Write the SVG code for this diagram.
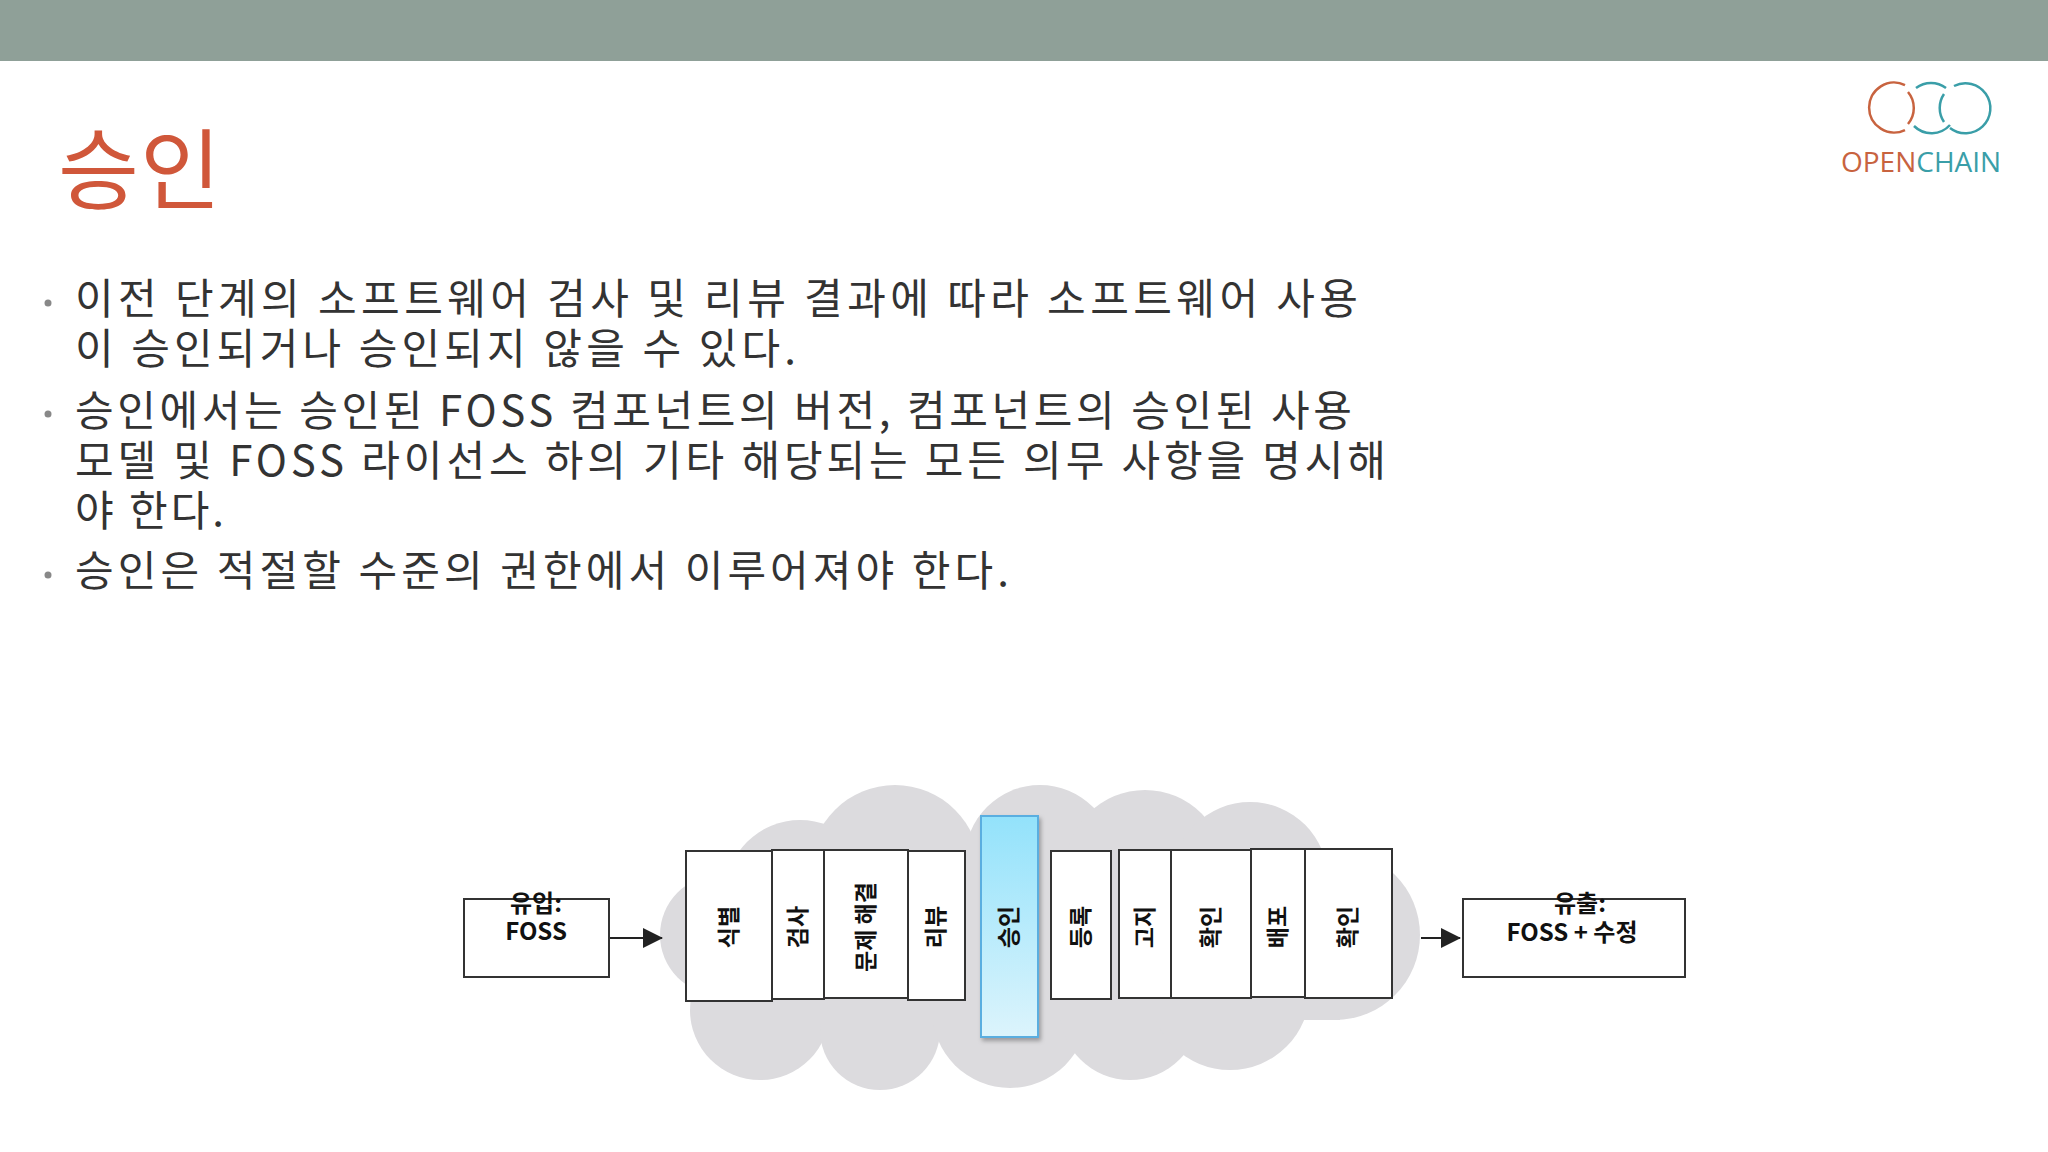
<svg xmlns="http://www.w3.org/2000/svg" width="2048" height="1152" viewBox="0 0 2048 1152">
<defs>
<style>
.t{font-family:"Noto Sans CJK KR","Noto Sans",sans-serif;fill:#333}
.b{font-size:42px}
.box{fill:#fff;stroke:#333;stroke-width:2}
.vl{font-family:"Noto Sans CJK KR",sans-serif;font-size:23px;font-weight:bold;fill:#111;text-anchor:middle}
.bl{font-family:"Noto Sans CJK KR",sans-serif;font-size:24px;font-weight:bold;fill:#111;text-anchor:middle}
.c{fill:#dcdbde}
</style>
<linearGradient id="g" x1="0" y1="0" x2="0" y2="1"><stop offset="0" stop-color="#93e2fb"/><stop offset="1" stop-color="#dcf4fc"/></linearGradient>
<marker id="ar" markerWidth="20" markerHeight="20" refX="19" refY="10" orient="auto" markerUnits="userSpaceOnUse" viewBox="0 0 20 20"><path d="M0,0L20,10L0,20z" fill="#222"/></marker>
<filter id="sh" x="-20%" y="-10%" width="140%" height="120%"><feDropShadow dx="2" dy="3" stdDeviation="2" flood-opacity="0.3"/></filter>
</defs>
<rect width="2048" height="1152" fill="#fff"/>
<rect width="2048" height="61" fill="#8fa098"/>
<text x="58" y="202" font-family="Noto Sans CJK KR,sans-serif" font-size="88" fill="#d0573a" textLength="163">승인</text>
<g id="logo" fill="none" stroke-width="2.5">
<path d="M1905,85 A25,25 0 1 0 1905,130" stroke="#c8633f"/>
<path d="M1908,92 A25,25 0 0 1 1908,124" stroke="#c8633f"/>
<path d="M1916,88 A25,25 0 0 1 1946,88 M1950,125 A25,25 0 0 1 1914,126" stroke="#3a9ea8"/>
<path d="M1944,94 A25,25 0 0 0 1944,122 M1954,86 A25,25 0 1 1 1950,128" stroke="#3a9ea8"/>
<text x="1841" y="172" font-family="Open Sans,sans-serif" font-size="28" stroke="none"><tspan fill="#c8633f">OPEN</tspan><tspan fill="#3a9ea8">CHAIN</tspan></text>
</g>
<g id="bullets" class="t b">
<circle cx="48" cy="303" r="3.5" fill="#888"/>
<circle cx="48" cy="414" r="3.5" fill="#888"/>
<circle cx="48" cy="575" r="3.5" fill="#888"/>
<text x="75" y="314" textLength="1283">이전 단계의 소프트웨어 검사 및 리뷰 결과에 따라 소프트웨어 사용</text>
<text x="75" y="364" textLength="721">이 승인되거나 승인되지 않을 수 있다.</text>
<text x="75" y="426" textLength="1277">승인에서는 승인된 FOSS 컴포넌트의 버전, 컴포넌트의 승인된 사용</text>
<text x="75" y="476" textLength="1311">모델 및 FOSS 라이선스 하의 기타 해당되는 모든 의무 사항을 명시해</text>
<text x="75" y="526" textLength="149">야 한다.</text>
<text x="75" y="586" textLength="934">승인은 적절할 수준의 권한에서 이루어져야 한다.</text>
</g>
<g id="cloud" class="c">
<circle cx="800" cy="895" r="75"/>
<circle cx="895" cy="870" r="85"/>
<circle cx="1040" cy="860" r="75"/>
<circle cx="1145" cy="870" r="80"/>
<circle cx="1250" cy="880" r="78"/>
<circle cx="1335" cy="935" r="85"/>
<circle cx="720" cy="935" r="60"/>
<circle cx="760" cy="1010" r="70"/>
<circle cx="880" cy="1030" r="60"/>
<circle cx="1010" cy="1010" r="78"/>
<circle cx="1130" cy="1010" r="70"/>
<circle cx="1230" cy="990" r="80"/>
<rect x="700" y="870" width="640" height="150"/>
</g>
<g id="connectors" stroke="#222" stroke-width="2" fill="none">
<line x1="609" y1="938" x2="662" y2="938" marker-end="url(#ar)"/>
<line x1="1421" y1="938" x2="1460" y2="938" marker-end="url(#ar)"/>
</g>
<g id="n-in"><rect class="box" x="464" y="899" width="145" height="78"/><text class="bl" x="536" y="912">유입:</text><text class="bl" x="536" y="940">FOSS</text></g>
<g id="n-1"><rect class="box" x="686" y="851" width="86" height="150"/><text class="vl" transform="translate(737,927) rotate(-90)">식별</text></g>
<g id="n-2"><rect class="box" x="772" y="850" width="52" height="149"/><text class="vl" transform="translate(806,927) rotate(-90)">검사</text></g>
<g id="n-3"><rect class="box" x="824" y="850" width="84" height="148"/><text class="vl" transform="translate(874,927) rotate(-90)">문제 해결</text></g>
<g id="n-4"><rect class="box" x="908" y="851" width="57" height="149"/><text class="vl" transform="translate(944,927) rotate(-90)">리뷰</text></g>
<g id="n-5"><rect x="981" y="816" width="57" height="221" fill="url(#g)" stroke="#5aaee0" stroke-width="2" filter="url(#sh)"/><text class="vl" transform="translate(1017,927) rotate(-90)" font-weight="normal">승인</text></g>
<g id="n-6"><rect class="box" x="1051" y="851" width="60" height="148"/><text class="vl" transform="translate(1089,927) rotate(-90)">등록</text></g>
<g id="n-7"><rect class="box" x="1119" y="850" width="52" height="148"/><text class="vl" transform="translate(1153,927) rotate(-90)">고지</text></g>
<g id="n-8"><rect class="box" x="1171" y="850" width="80" height="148"/><text class="vl" transform="translate(1219,927) rotate(-90)">확인</text></g>
<g id="n-9"><rect class="box" x="1251" y="849" width="54" height="148"/><text class="vl" transform="translate(1286,927) rotate(-90)">배포</text></g>
<g id="n-10"><rect class="box" x="1305" y="849" width="87" height="149"/><text class="vl" transform="translate(1356,927) rotate(-90)">확인</text></g>
<g id="n-out"><rect class="box" x="1463" y="899" width="222" height="78"/><text class="bl" x="1580" y="912">유출:</text><text class="bl" x="1572" y="941">FOSS + 수정</text></g>
</svg>
